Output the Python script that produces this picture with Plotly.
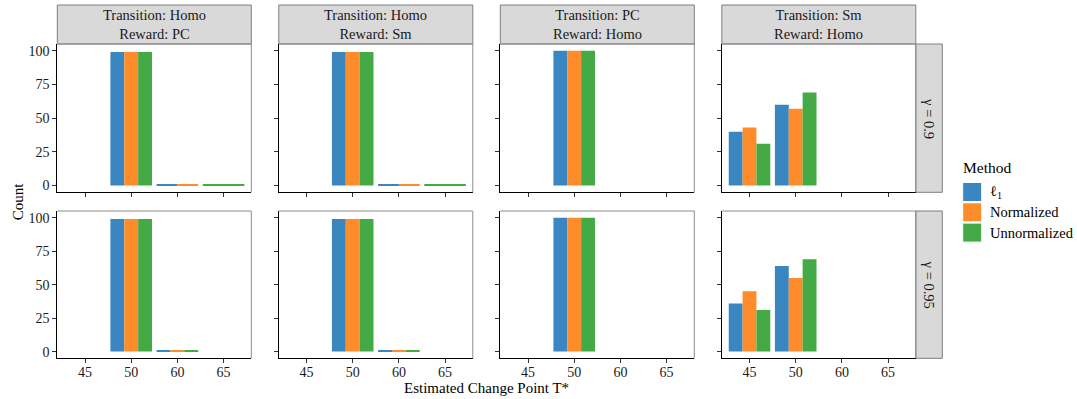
import plotly.graph_objects as go

# ---------------- data ----------------
categories = ["45", "50", "60", "65"]
methods = ["ℓ<sub>1</sub>", "Normalized", "Unnormalized"]
colors = ["#3A86C0", "#FF8C2B", "#43AA45"]
settings = ["Transition: Homo<br>Reward: PC", "Transition: Homo<br>Reward: Sm",
            "Transition: PC<br>Reward: Homo", "Transition: Sm<br>Reward: Homo"]
gammas = ["γ = 0.9", "γ = 0.95"]
y_ticks = [0, 25, 50, 75, 100]

# counts per method (l1, Normalized, Unnormalized) over categories 45, 50, 60, 65
g09_homo_pc = [[None, 99, 1, None], [None, 99, 1, None], [None, 99, None, 1]]
g09_homo_sm = [[None, 99, 1, None], [None, 99, 1, None], [None, 99, None, 1]]
g09_pc_homo = [[None, 100, None, None], [None, 100, None, None], [None, 100, None, None]]
g09_sm_homo = [[40, 60, None, None], [43, 57, None, None], [31, 69, None, None]]
g095_homo_pc = [[None, 99, 1, None], [None, 99, 1, None], [None, 99, 1, None]]
g095_homo_sm = [[None, 99, 1, None], [None, 99, 1, None], [None, 99, 1, None]]
g095_pc_homo = [[None, 100, None, None], [None, 100, None, None], [None, 100, None, None]]
g095_sm_homo = [[36, 64, None, None], [45, 55, None, None], [31, 69, None, None]]

panels = [[g09_homo_pc, g09_homo_sm, g09_pc_homo, g09_sm_homo],
          [g095_homo_pc, g095_homo_sm, g095_pc_homo, g095_sm_homo]]

# ---------------- layout geometry (pixels) ----------------
W, H = 1077, 399
panel_left = [57.3, 278.8, 500.3, 721.8]
panel_w = 194.0
row_top = [44.0, 211.0]
row_bot = [192.3, 358.3]
strip_top = 5.0
strip_right = 942.3

def px(x):
    return x / W

def py(y):
    return 1 - y / H

FAM = "Liberation Serif, Times New Roman, serif"

def fnt(size, color="black"):
    return dict(family=FAM, size=size, color=color)

fig = go.Figure()
layout = dict(
    width=W, height=H, margin=dict(l=0, r=0, t=0, b=0),
    paper_bgcolor="white", plot_bgcolor="white", showlegend=False,
    barmode="overlay", font=fnt(13),
)
shapes = []
annotations = []

for r in range(2):
    for c in range(4):
        i = r * 4 + c
        xa = "x" if i == 0 else f"x{i + 1}"
        ya = "y" if i == 0 else f"y{i + 1}"
        data = panels[r][c]
        for k in range(len(categories)):
            present = [m for m in range(len(methods)) if data[m][k] is not None]
            n = len(present)
            for j, m in enumerate(present):
                w = 0.9 / n
                fig.add_trace(go.Bar(
                    x=[k + 1], y=[data[m][k]], width=[w], offset=[-0.45 + j * w],
                    marker=dict(color=colors[m], line=dict(width=0)),
                    xaxis=xa, yaxis=ya, name=methods[m], hoverinfo="skip"))
        x0, x1 = panel_left[c], panel_left[c] + panel_w
        y0, y1 = row_top[r], row_bot[r]
        layout["xaxis" if i == 0 else f"xaxis{i + 1}"] = dict(
            domain=[px(x0), px(x1)], anchor=ya, range=[0.4, 4.6],
            tickvals=[1, 2, 3, 4], ticktext=categories if r == 1 else [" "] * 4,
            showgrid=False, zeroline=False, showline=True, linecolor="black", linewidth=1.2,
            ticks="outside", ticklen=4, tickwidth=1, tickcolor="#333333",
            ticklabelstandoff=-3,
            tickfont=fnt(14, "#1A1A1A"), fixedrange=True)
        layout["yaxis" if i == 0 else f"yaxis{i + 1}"] = dict(
            domain=[py(y1), py(y0)], anchor=xa, range=[-5, 105],
            tickvals=y_ticks, ticktext=[str(v) for v in y_ticks] if c == 0 else [" "] * 5,
            showgrid=False, zeroline=False, showline=True, linecolor="black", linewidth=1.2,
            ticks="outside", ticklen=4, tickwidth=1, tickcolor="#333333",
            tickfont=fnt(14, "#1A1A1A"), fixedrange=True)
        # gray top/right panel border
        shapes.append(dict(type="line", xref="paper", yref="paper",
                           x0=px(x0), x1=px(x1), y0=py(y0), y1=py(y0),
                           line=dict(color="#8C8C8C", width=1)))
        shapes.append(dict(type="line", xref="paper", yref="paper",
                           x0=px(x1), x1=px(x1), y0=py(y0), y1=py(y1),
                           line=dict(color="#8C8C8C", width=1)))

# top strips
for c in range(4):
    x0, x1 = panel_left[c], panel_left[c] + panel_w
    shapes.append(dict(type="rect", xref="paper", yref="paper", layer="below",
                       x0=px(x0), x1=px(x1), y0=py(row_top[0]), y1=py(strip_top),
                       fillcolor="#D9D9D9", line=dict(color="#7F7F7F", width=1)))
    annotations.append(dict(xref="paper", yref="paper", x=px((x0 + x1) / 2),
                            y=py((strip_top + row_top[0]) / 2), text=settings[c],
                            showarrow=False, font=fnt(14.5, "#1A1A1A"),
                            xanchor="center", yanchor="middle"))

# right strips
strip_left = panel_left[3] + panel_w
for r in range(2):
    shapes.append(dict(type="rect", xref="paper", yref="paper", layer="below",
                       x0=px(strip_left), x1=px(strip_right), y0=py(row_bot[r]), y1=py(row_top[r]),
                       fillcolor="#D9D9D9", line=dict(color="#7F7F7F", width=1)))
    annotations.append(dict(xref="paper", yref="paper", x=px((strip_left + strip_right) / 2),
                            y=py((row_top[r] + row_bot[r]) / 2), text=gammas[r], textangle=90,
                            showarrow=False, font=fnt(14.5, "#1A1A1A"),
                            xanchor="center", yanchor="middle"))

# axis titles
annotations.append(dict(xref="paper", yref="paper", x=px(18), y=py((row_top[0] + row_bot[1]) / 2),
                        text="Count", textangle=-90, showarrow=False,
                        font=fnt(15), xanchor="center", yanchor="middle"))
annotations.append(dict(xref="paper", yref="paper", x=px((panel_left[0] + panel_left[3] + panel_w) / 2),
                        y=py(387.5), text="Estimated Change Point T*", showarrow=False,
                        font=fnt(15), xanchor="center", yanchor="middle"))

# legend (drawn manually to mimic ggplot keys)
annotations.append(dict(xref="paper", yref="paper", x=px(960.5), y=py(167), text="Method",
                        showarrow=False, font=fnt(15.5), xanchor="left", yanchor="middle"))
key_top = 182.5
for m in range(len(methods)):
    t = key_top + m * 20.3
    shapes.append(dict(type="rect", xref="paper", yref="paper",
                       x0=px(962.7), x1=px(981.7), y0=py(t + 19), y1=py(t),
                       fillcolor=colors[m], line=dict(color="white", width=1)))
    annotations.append(dict(xref="paper", yref="paper", x=px(988), y=py(t + 9.5),
                            text=methods[m], showarrow=False, font=fnt(14.5),
                            xanchor="left", yanchor="middle"))

layout["shapes"] = shapes
layout["annotations"] = annotations
fig.update_layout(**layout)
fig.write_html("out.html")
